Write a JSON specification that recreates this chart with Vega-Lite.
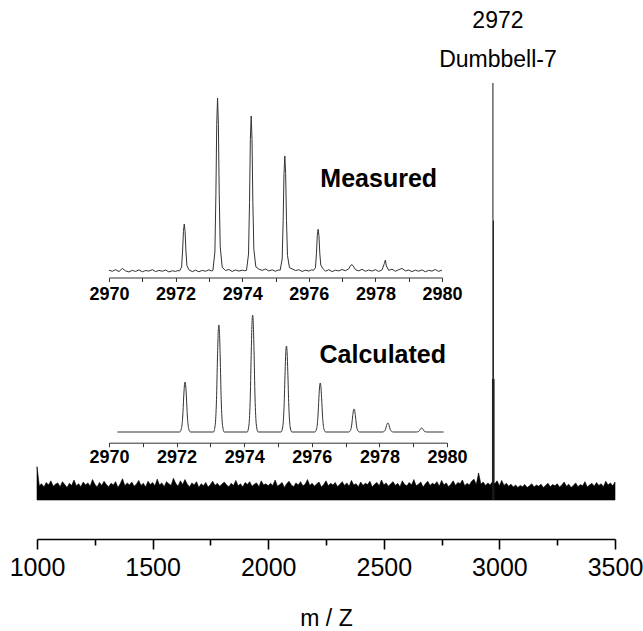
{
  "$schema": "https://vega.github.io/schema/vega-lite/v6.json",
  "width": 578,
  "height": 417,
  "autosize": {"type": "none"},
  "padding": {"left": 37, "top": 83, "right": 28, "bottom": 131},
  "background": "white",
  "config": {"view": {"stroke": null}, "axis": {"grid": false}},
  "resolve": {"scale": {"x": "independent", "y": "independent"}, "axis": {"x": "independent", "y": "independent"}},
  "datasets": {
    "noise": [
      {"mz":1000,"i":8.0},
      {"mz":1010,"i":3.4},{"mz":1020,"i":3.9},{"mz":1030,"i":3.1},{"mz":1040,"i":4.2},{"mz":1050,"i":3.6},{"mz":1060,"i":4.6},{"mz":1070,"i":3.3},{"mz":1080,"i":3.8},{"mz":1090,"i":4.1},{"mz":1100,"i":3.2},
      {"mz":1110,"i":4.4},{"mz":1120,"i":3.7},{"mz":1130,"i":3.0},{"mz":1140,"i":4.0},{"mz":1150,"i":3.5},{"mz":1160,"i":4.8},{"mz":1170,"i":3.4},{"mz":1180,"i":3.9},{"mz":1190,"i":3.2},{"mz":1200,"i":4.3},
      {"mz":1210,"i":3.6},{"mz":1220,"i":4.1},{"mz":1230,"i":3.3},{"mz":1240,"i":4.9},{"mz":1250,"i":3.8},{"mz":1260,"i":3.1},{"mz":1270,"i":4.2},{"mz":1280,"i":3.5},{"mz":1290,"i":4.5},{"mz":1300,"i":3.7},
      {"mz":1310,"i":3.2},{"mz":1320,"i":4.0},{"mz":1330,"i":3.6},{"mz":1340,"i":4.4},{"mz":1350,"i":3.0},{"mz":1360,"i":3.9},{"mz":1370,"i":5.1},{"mz":1380,"i":3.4},{"mz":1390,"i":4.1},{"mz":1400,"i":3.6},
      {"mz":1410,"i":4.3},{"mz":1420,"i":3.3},{"mz":1430,"i":3.8},{"mz":1440,"i":4.7},{"mz":1450,"i":3.5},{"mz":1460,"i":4.0},{"mz":1470,"i":3.1},{"mz":1480,"i":4.5},{"mz":1490,"i":3.7},{"mz":1500,"i":4.2},
      {"mz":1510,"i":3.4},{"mz":1520,"i":5.0},{"mz":1530,"i":3.6},{"mz":1540,"i":4.1},{"mz":1550,"i":3.2},{"mz":1560,"i":4.4},{"mz":1570,"i":3.9},{"mz":1580,"i":3.5},{"mz":1590,"i":5.2},{"mz":1600,"i":4.0},
      {"mz":1610,"i":3.3},{"mz":1620,"i":4.6},{"mz":1630,"i":3.7},{"mz":1640,"i":4.9},{"mz":1650,"i":3.8},{"mz":1660,"i":3.2},{"mz":1670,"i":4.1},{"mz":1680,"i":3.6},{"mz":1690,"i":4.4},{"mz":1700,"i":3.0},
      {"mz":1710,"i":3.9},{"mz":1720,"i":3.4},{"mz":1730,"i":4.2},{"mz":1740,"i":3.1},{"mz":1750,"i":3.7},{"mz":1760,"i":4.5},{"mz":1770,"i":3.5},{"mz":1780,"i":4.0},{"mz":1790,"i":3.3},{"mz":1800,"i":3.8},
      {"mz":1810,"i":4.3},{"mz":1820,"i":3.6},{"mz":1830,"i":3.2},{"mz":1840,"i":4.0},{"mz":1850,"i":3.5},{"mz":1860,"i":4.7},{"mz":1870,"i":3.4},{"mz":1880,"i":3.9},{"mz":1890,"i":3.1},{"mz":1900,"i":4.2},
      {"mz":1910,"i":3.7},{"mz":1920,"i":4.4},{"mz":1930,"i":3.3},{"mz":1940,"i":3.8},{"mz":1950,"i":4.1},{"mz":1960,"i":3.2},{"mz":1970,"i":4.6},{"mz":1980,"i":3.6},{"mz":1990,"i":3.9},{"mz":2000,"i":3.4},
      {"mz":2010,"i":4.0},{"mz":2020,"i":3.5},{"mz":2030,"i":4.8},{"mz":2040,"i":3.3},{"mz":2050,"i":3.7},{"mz":2060,"i":4.2},{"mz":2070,"i":3.0},{"mz":2080,"i":3.9},{"mz":2090,"i":4.5},{"mz":2100,"i":3.6},
      {"mz":2110,"i":3.2},{"mz":2120,"i":4.1},{"mz":2130,"i":3.6},{"mz":2140,"i":4.4},{"mz":2150,"i":3.4},{"mz":2160,"i":3.8},{"mz":2170,"i":4.9},{"mz":2180,"i":3.5},{"mz":2190,"i":4.0},{"mz":2200,"i":3.3},
      {"mz":2210,"i":3.9},{"mz":2220,"i":4.3},{"mz":2230,"i":3.1},{"mz":2240,"i":3.7},{"mz":2250,"i":4.6},{"mz":2260,"i":3.4},{"mz":2270,"i":4.0},{"mz":2280,"i":3.6},{"mz":2290,"i":4.2},{"mz":2300,"i":3.2},
      {"mz":2310,"i":3.8},{"mz":2320,"i":4.4},{"mz":2330,"i":3.5},{"mz":2340,"i":4.1},{"mz":2350,"i":3.3},{"mz":2360,"i":4.7},{"mz":2370,"i":3.6},{"mz":2380,"i":3.9},{"mz":2390,"i":3.2},{"mz":2400,"i":4.3},
      {"mz":2410,"i":3.5},{"mz":2420,"i":4.0},{"mz":2430,"i":3.7},{"mz":2440,"i":4.5},{"mz":2450,"i":3.1},{"mz":2460,"i":3.8},{"mz":2470,"i":4.2},{"mz":2480,"i":3.4},{"mz":2490,"i":4.8},{"mz":2500,"i":3.6},
      {"mz":2510,"i":4.1},{"mz":2520,"i":3.3},{"mz":2530,"i":3.9},{"mz":2540,"i":4.4},{"mz":2550,"i":3.5},{"mz":2560,"i":4.0},{"mz":2570,"i":3.2},{"mz":2580,"i":4.6},{"mz":2590,"i":3.7},{"mz":2600,"i":3.4},
      {"mz":2610,"i":4.2},{"mz":2620,"i":3.6},{"mz":2630,"i":4.9},{"mz":2640,"i":3.4},{"mz":2650,"i":3.8},{"mz":2660,"i":4.3},{"mz":2670,"i":3.1},{"mz":2680,"i":3.9},{"mz":2690,"i":4.5},{"mz":2700,"i":3.5},
      {"mz":2710,"i":4.0},{"mz":2720,"i":3.7},{"mz":2730,"i":4.4},{"mz":2740,"i":3.3},{"mz":2750,"i":4.7},{"mz":2760,"i":3.6},{"mz":2770,"i":4.1},{"mz":2780,"i":3.2},{"mz":2790,"i":3.8},{"mz":2800,"i":4.6},
      {"mz":2810,"i":3.5},{"mz":2820,"i":4.2},{"mz":2830,"i":3.9},{"mz":2840,"i":4.8},{"mz":2850,"i":3.4},{"mz":2860,"i":4.0},{"mz":2870,"i":3.6},{"mz":2880,"i":4.5},{"mz":2890,"i":5.0},{"mz":2900,"i":3.7},
      {"mz":2910,"i":6.5},{"mz":2920,"i":3.8},{"mz":2930,"i":4.3},{"mz":2940,"i":3.5},{"mz":2950,"i":4.1},{"mz":2960,"i":3.6},{"mz":2970,"i":4.4},{"mz":2980,"i":3.9},{"mz":2990,"i":4.6},{"mz":3000,"i":3.4},
      {"mz":3010,"i":4.7},{"mz":3020,"i":3.5},{"mz":3030,"i":4.0},{"mz":3040,"i":3.3},{"mz":3050,"i":3.8},{"mz":3060,"i":3.1},{"mz":3070,"i":3.6},{"mz":3080,"i":3.0},{"mz":3090,"i":3.5},{"mz":3100,"i":3.2},
      {"mz":3110,"i":3.7},{"mz":3120,"i":3.0},{"mz":3130,"i":3.4},{"mz":3140,"i":3.9},{"mz":3150,"i":3.1},{"mz":3160,"i":3.6},{"mz":3170,"i":3.3},{"mz":3180,"i":3.8},{"mz":3190,"i":3.0},{"mz":3200,"i":3.5},
      {"mz":3210,"i":4.0},{"mz":3220,"i":3.2},{"mz":3230,"i":3.7},{"mz":3240,"i":3.4},{"mz":3250,"i":3.9},{"mz":3260,"i":3.1},{"mz":3270,"i":3.6},{"mz":3280,"i":4.3},{"mz":3290,"i":3.3},{"mz":3300,"i":3.8},
      {"mz":3310,"i":3.0},{"mz":3320,"i":3.5},{"mz":3330,"i":4.1},{"mz":3340,"i":3.2},{"mz":3350,"i":3.7},{"mz":3360,"i":3.4},{"mz":3370,"i":4.4},{"mz":3380,"i":3.1},{"mz":3390,"i":3.6},{"mz":3400,"i":4.0},
      {"mz":3410,"i":3.3},{"mz":3420,"i":4.2},{"mz":3430,"i":3.5},{"mz":3440,"i":3.9},{"mz":3450,"i":3.2},{"mz":3460,"i":4.5},{"mz":3470,"i":3.6},{"mz":3480,"i":4.1},{"mz":3490,"i":3.4},{"mz":3500,"i":4.3}
    ],
    "peak": [
      {"mz":2972,"i":100,"mass":"2972","name":"Dumbbell-7"},
      {"mz":2974,"i":67,"mass":"","name":""},
      {"mz":2970,"i":29,"mass":"","name":""},
      {"mz":2977,"i":29,"mass":"","name":""}
    ],
    "measured": [
      {"m":2970.0,"i":1.6},{"m":2970.1,"i":1.0},{"m":2970.2,"i":1.9},{"m":2970.3,"i":0.8},{"m":2970.4,"i":2.6},{"m":2970.5,"i":1.2},{"m":2970.6,"i":0.6},{"m":2970.7,"i":1.5},{"m":2970.8,"i":0.9},{"m":2970.9,"i":1.8},
      {"m":2971.0,"i":0.7},{"m":2971.1,"i":1.4},{"m":2971.2,"i":1.1},{"m":2971.3,"i":1.9},{"m":2971.4,"i":0.8},{"m":2971.5,"i":1.5},{"m":2971.6,"i":1.0},{"m":2971.7,"i":1.7},{"m":2971.8,"i":0.6},{"m":2971.9,"i":1.3},
      {"m":2972.0,"i":0.9},{"m":2972.07,"i":1.4},{"m":2972.12,"i":1.2},{"m":2972.18,"i":3.4},{"m":2972.21,"i":12.6},{"m":2972.235,"i":23.8},{"m":2972.26,"i":28},{"m":2972.285,"i":23.8},{"m":2972.31,"i":12.6},{"m":2972.34,"i":4.2},{"m":2972.4,"i":1.8},
      {"m":2972.5,"i":0.8},{"m":2972.6,"i":1.6},{"m":2972.7,"i":0.7},{"m":2972.8,"i":1.5},{"m":2972.9,"i":1.0},{"m":2973.0,"i":1.8},{"m":2973.07,"i":1.2},
      {"m":2973.12,"i":1.4},{"m":2973.18,"i":12},{"m":2973.21,"i":45},{"m":2973.235,"i":85},{"m":2973.26,"i":100},{"m":2973.285,"i":85},{"m":2973.31,"i":45},{"m":2973.34,"i":15},{"m":2973.4,"i":3.2},
      {"m":2973.5,"i":1.4},{"m":2973.6,"i":2.0},{"m":2973.7,"i":0.9},{"m":2973.8,"i":1.7},{"m":2973.9,"i":1.1},{"m":2974.0,"i":1.6},{"m":2974.08,"i":1.3},
      {"m":2974.13,"i":1.5},{"m":2974.19,"i":10.8},{"m":2974.22,"i":40.4},{"m":2974.245,"i":76.2},{"m":2974.27,"i":89.7},{"m":2974.295,"i":76.2},{"m":2974.32,"i":40.4},{"m":2974.35,"i":13.5},{"m":2974.41,"i":3.5},
      {"m":2974.5,"i":2.2},{"m":2974.6,"i":1.5},{"m":2974.7,"i":2.3},{"m":2974.8,"i":1.2},{"m":2974.9,"i":1.8},{"m":2975.0,"i":1.0},{"m":2975.08,"i":1.7},
      {"m":2975.14,"i":1.6},{"m":2975.2,"i":8.0},{"m":2975.23,"i":30.1},{"m":2975.255,"i":56.9},{"m":2975.28,"i":66.9},{"m":2975.305,"i":56.9},{"m":2975.33,"i":30.1},{"m":2975.36,"i":10},{"m":2975.42,"i":3.0},
      {"m":2975.5,"i":2.4},{"m":2975.6,"i":1.4},{"m":2975.7,"i":1.9},{"m":2975.8,"i":0.9},{"m":2975.9,"i":1.6},{"m":2976.0,"i":1.1},{"m":2976.08,"i":1.8},
      {"m":2976.14,"i":1.5},{"m":2976.2,"i":3.0},{"m":2976.23,"i":11.3},{"m":2976.255,"i":21.3},{"m":2976.28,"i":25},{"m":2976.305,"i":21.3},{"m":2976.33,"i":11.3},{"m":2976.36,"i":4.5},{"m":2976.42,"i":2.6},
      {"m":2976.5,"i":1.0},{"m":2976.6,"i":1.9},{"m":2976.7,"i":0.8},{"m":2976.8,"i":1.6},{"m":2976.9,"i":1.2},{"m":2977.0,"i":2.0},{"m":2977.1,"i":1.3},{"m":2977.2,"i":2.4},
      {"m":2977.25,"i":4.2},{"m":2977.3,"i":4.8},{"m":2977.35,"i":3.5},{"m":2977.4,"i":1.9},{"m":2977.5,"i":1.2},{"m":2977.6,"i":2.1},{"m":2977.7,"i":1.0},{"m":2977.8,"i":1.7},{"m":2977.9,"i":1.1},{"m":2978.0,"i":1.9},{"m":2978.1,"i":0.9},{"m":2978.2,"i":1.8},
      {"m":2978.27,"i":5.5},{"m":2978.3,"i":7.4},{"m":2978.33,"i":4.0},{"m":2978.4,"i":1.5},{"m":2978.5,"i":2.2},{"m":2978.6,"i":1.0},{"m":2978.7,"i":1.9},{"m":2978.8,"i":2.6},{"m":2978.9,"i":1.2},
      {"m":2979.0,"i":1.7},{"m":2979.1,"i":0.8},{"m":2979.2,"i":1.6},{"m":2979.3,"i":1.0},{"m":2979.4,"i":1.8},{"m":2979.5,"i":0.7},{"m":2979.6,"i":1.5},{"m":2979.7,"i":1.1},{"m":2979.8,"i":2.0},{"m":2979.9,"i":0.9},{"m":2980.0,"i":1.7}
    ],
    "calculated": [
      {"m":2970.25,"i":0},
      {"m":2972.09,"i":0},{"m":2972.14,"i":2.6},{"m":2972.18,"i":12.8},{"m":2972.21,"i":29.9},{"m":2972.23,"i":39.3},{"m":2972.25,"i":42.7},{"m":2972.27,"i":39.3},{"m":2972.29,"i":29.9},{"m":2972.32,"i":12.8},{"m":2972.36,"i":2.6},{"m":2972.41,"i":0},
      {"m":2973.09,"i":0},{"m":2973.14,"i":5.5},{"m":2973.18,"i":27.5},{"m":2973.21,"i":64.1},{"m":2973.23,"i":84.2},{"m":2973.25,"i":91.5},{"m":2973.27,"i":84.2},{"m":2973.29,"i":64.1},{"m":2973.32,"i":27.5},{"m":2973.36,"i":5.5},{"m":2973.41,"i":0},
      {"m":2974.09,"i":0},{"m":2974.14,"i":6},{"m":2974.18,"i":30},{"m":2974.21,"i":70},{"m":2974.23,"i":92},{"m":2974.25,"i":100},{"m":2974.27,"i":92},{"m":2974.29,"i":70},{"m":2974.32,"i":30},{"m":2974.36,"i":6},{"m":2974.41,"i":0},
      {"m":2975.09,"i":0},{"m":2975.14,"i":4.4},{"m":2975.18,"i":22.1},{"m":2975.21,"i":51.5},{"m":2975.23,"i":67.6},{"m":2975.25,"i":73.5},{"m":2975.27,"i":67.6},{"m":2975.29,"i":51.5},{"m":2975.32,"i":22.1},{"m":2975.36,"i":4.4},{"m":2975.41,"i":0},
      {"m":2976.09,"i":0},{"m":2976.14,"i":2.5},{"m":2976.18,"i":12.6},{"m":2976.21,"i":29.3},{"m":2976.23,"i":38.5},{"m":2976.25,"i":41.9},{"m":2976.27,"i":38.5},{"m":2976.29,"i":29.3},{"m":2976.32,"i":12.6},{"m":2976.36,"i":2.5},{"m":2976.41,"i":0},
      {"m":2977.09,"i":0},{"m":2977.14,"i":1.2},{"m":2977.18,"i":5.9},{"m":2977.21,"i":13.8},{"m":2977.23,"i":18.1},{"m":2977.25,"i":19.7},{"m":2977.27,"i":18.1},{"m":2977.29,"i":13.8},{"m":2977.32,"i":5.9},{"m":2977.36,"i":1.2},{"m":2977.41,"i":0},
      {"m":2978.09,"i":0},{"m":2978.14,"i":0.5},{"m":2978.18,"i":2.3},{"m":2978.21,"i":5.4},{"m":2978.23,"i":7.1},{"m":2978.25,"i":7.7},{"m":2978.27,"i":7.1},{"m":2978.29,"i":5.4},{"m":2978.32,"i":2.3},{"m":2978.36,"i":0.5},{"m":2978.41,"i":0},
      {"m":2979.09,"i":0},{"m":2979.14,"i":0.2},{"m":2979.18,"i":1.0},{"m":2979.21,"i":2.4},{"m":2979.23,"i":3.1},{"m":2979.25,"i":3.4},{"m":2979.27,"i":3.1},{"m":2979.29,"i":2.4},{"m":2979.32,"i":1.0},{"m":2979.36,"i":0.2},{"m":2979.41,"i":0},
      {"m":2979.9,"i":0}
    ],
    "measuredLabel": [{"m":2978.1,"i":54,"label":"Measured"}],
    "calculatedLabel": [{"m":2978.1,"i":66,"label":"Calculated"}]
  },
  "layer": [
    {
      "data": {"name": "noise"},
      "mark": {"type": "area", "color": "black", "stroke": "black", "strokeWidth": 0.6, "interpolate": "linear"},
      "encoding": {
        "x": {"field": "mz", "type": "quantitative",
              "scale": {"domain": [1000, 3500], "nice": false, "zero": false},
              "axis": {"orient": "bottom", "values": [1000, 1500, 2000, 2500, 3000, 3500], "format": "d", "offset": 39, "tickSize": 10, "tickWidth": 1.6, "tickColor": "black",
                       "domainWidth": 1.6, "domainColor": "black", "labelFont": "Liberation Sans", "labelFontSize": 25,
                       "labelColor": "black", "labelPadding": 6, "labelFlush": false, "labelOverlap": false,
                       "title": "m / Z", "titleFont": "Liberation Sans", "titleFontSize": 23, "titleFontWeight": "normal",
                       "titleColor": "black", "titlePadding": 27, "grid": false}},
        "y": {"field": "i", "type": "quantitative", "scale": {"domain": [0, 100], "nice": false}, "axis": null},
        "y2": {"datum": 0}
      }
    },
    {
      "data": {"name": "peak"},
      "mark": {"type": "rule", "color": "#1a1a1a", "strokeWidth": 1},
      "encoding": {
        "x": {"field": "mz", "type": "quantitative",
              "scale": {"domain": [1000, 3500], "nice": false, "zero": false},
              "axis": {"orient": "bottom", "values": [1250, 1750, 2250, 2750, 3250], "offset": 39, "tickSize": 6, "tickWidth": 1.6, "tickColor": "black",
                       "domain": false, "labels": false, "title": null, "grid": false}},
        "y": {"field": "i", "type": "quantitative", "scale": {"domain": [0, 100], "nice": false}, "axis": null},
        "y2": {"datum": 0}
      }
    },
    {
      "data": {"name": "peak"},
      "mark": {"type": "text", "font": "Liberation Sans", "fontSize": 23, "color": "black", "dx": 5, "dy": -62, "baseline": "middle", "align": "center"},
      "encoding": {
        "x": {"field": "mz", "type": "quantitative", "scale": {"domain": [1000, 3500], "nice": false, "zero": false}, "axis": null},
        "y": {"field": "i", "type": "quantitative", "scale": {"domain": [0, 100], "nice": false}, "axis": null},
        "text": {"field": "mass"}
      }
    },
    {
      "data": {"name": "peak"},
      "mark": {"type": "text", "font": "Liberation Sans", "fontSize": 23, "color": "black", "dx": 5, "dy": -23, "baseline": "middle", "align": "center"},
      "encoding": {
        "x": {"field": "mz", "type": "quantitative", "scale": {"domain": [1000, 3500], "nice": false, "zero": false}, "axis": null},
        "y": {"field": "i", "type": "quantitative", "scale": {"domain": [0, 100], "nice": false}, "axis": null},
        "text": {"field": "name"}
      }
    },
    {
      "encoding": {
        "x": {"field": "m", "type": "quantitative",
              "scale": {"domain": [2970, 2980], "range": [72, 405], "nice": false, "zero": false},
              "axis": {"orient": "bottom", "values": [2970, 2971, 2972, 2973, 2974, 2975, 2976, 2977, 2978, 2979, 2980], "format": "d", "offset": -222.5,
                       "labelExpr": "datum.value % 2 == 0 ? datum.label : ''",
                       "tickSize": 4, "tickColor": "#333", "domainColor": "#333", "domainWidth": 1,
                       "labelFont": "Liberation Sans", "labelFontSize": 18, "labelFontWeight": "bold", "labelColor": "black",
                       "labelPadding": 4, "labelFlush": false, "labelOverlap": false, "title": null, "grid": false}},
        "y": {"field": "i", "type": "quantitative", "scale": {"domain": [0, 100], "range": [190, 15], "nice": false}, "axis": null}
      },
      "layer": [
        {"data": {"name": "measured"}, "mark": {"type": "line", "color": "#333", "strokeWidth": 1, "interpolate": "linear"}},
        {"data": {"name": "measuredLabel"}, "mark": {"type": "text", "font": "Liberation Sans", "fontSize": 25, "fontWeight": "bold", "color": "black", "baseline": "middle", "align": "center"},
         "encoding": {"text": {"field": "label"}}}
      ]
    },
    {
      "encoding": {
        "x": {"field": "m", "type": "quantitative",
              "scale": {"domain": [2970, 2980], "range": [72, 410], "nice": false, "zero": false},
              "axis": {"orient": "bottom", "values": [2970, 2971, 2972, 2973, 2974, 2975, 2976, 2977, 2978, 2979, 2980], "format": "d", "offset": -57.3,
                       "labelExpr": "datum.value % 2 == 0 ? datum.label : ''",
                       "tickSize": 4, "tickColor": "#333", "domainColor": "#333", "domainWidth": 1,
                       "labelFont": "Liberation Sans", "labelFontSize": 18, "labelFontWeight": "bold", "labelColor": "black",
                       "labelPadding": 2, "labelFlush": false, "labelOverlap": false, "title": null, "grid": false}},
        "y": {"field": "i", "type": "quantitative", "scale": {"domain": [0, 100], "range": [349, 232], "nice": false}, "axis": null}
      },
      "layer": [
        {"data": {"name": "calculated"}, "mark": {"type": "line", "color": "#333", "strokeWidth": 1, "interpolate": "monotone"}},
        {"data": {"name": "calculatedLabel"}, "mark": {"type": "text", "font": "Liberation Sans", "fontSize": 25, "fontWeight": "bold", "color": "black", "baseline": "middle", "align": "center"},
         "encoding": {"text": {"field": "label"}}}
      ]
    }
  ]
}
